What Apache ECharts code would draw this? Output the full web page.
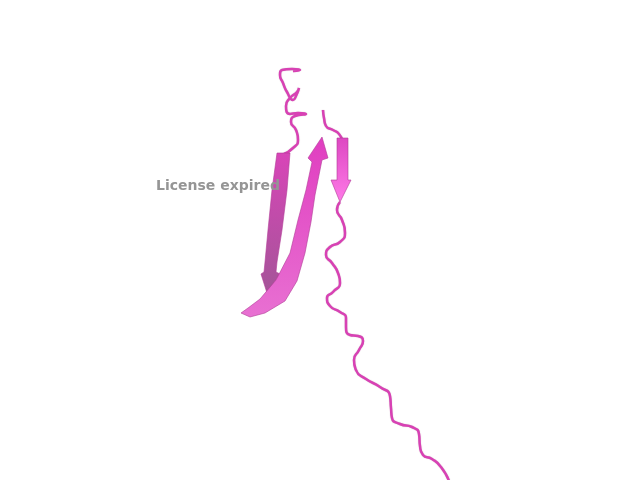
<!DOCTYPE html>
<html>
<head>
<meta charset="utf-8">
<script src="https://cdn.jsdelivr.net/npm/echarts@6/dist/echarts.min.js"></script>
<style>
html, body { margin: 0; padding: 0; background: #ffffff; }
#main { width: 640px; height: 480px; }
</style>
</head>
<body>
<div id="main"></div>
<script>
// picture coordinates (x right, y down)
var coilTop = [[284,154],[293,148],[298,140],[296,130],[291,122],[295,116],[306,114],[298,113],[290,114],[286,106],[290,98],[297,92],[299,88],[296,96],[293,100],[287,92],[283,83],[280,75],[282,70],[292,69],[300,70],[293,71]];
var coilLoop = [[323,110],[324,118],[326,126],[333,130],[339,134],[342,140]];
var coilTail = [[340,202],[337,210],[342,220],[345,233],[340,242],[330,247],[326,255],[332,263],[338,273],[340,283],[333,292],[327,298],[330,306],[340,312],[346,318],[346,327],[350,335],[358,336],[363,341],[359,350],[354,360],[356,370],[366,379],[380,387],[390,396],[391,408],[392,418],[400,424],[412,427],[419,434],[420,446],[423,455],[432,459],[441,467],[449,481]];

var strandLeft = [[277,153],[290,153],[287,190],[282,230],[277,262],[276,272],[280,274],[267,293],[261,274],[264,272],[265,262],[268,230],[272,190]];
var strandMid = [[250,317],[265,313],[285,301],[297,281],[305,253],[311,222],[315,195],[320,170],[322,160],[328,158],[322,137],[308,158],[312,162],[306,190],[298,220],[290,253],[276,280],[260,299],[248,308],[241,313]];
var strandRight = [[337,138],[348,138],[348,180],[351,180],[340,202],[331,180],[337,180]];

var strands = [strandLeft, strandMid, strandRight];
var strandColors = [
	['#d845b8', '#a45598'],
	['#e03ec0', '#e870d2'],
	['#dd48c2', '#ff7ae8']
];

var labelText = 'License expired';

var myChart = echarts.init(document.getElementById('main'));

function coilSeries(pts){
	return {
		type: 'line',
		data: pts,
		smooth: 0.6,
		symbol: 'none',
		silent: true,
		lineStyle: { color: '#d841b4', width: 2.5, shadowColor: 'rgba(110,20,80,0.35)', shadowBlur: 1 },
		z: 2
	};
}

var option = {
	animation: false,
	backgroundColor: '#ffffff',
	grid: { left: 0, right: 0, top: 0, bottom: 0 },
	xAxis: { type: 'value', min: 0, max: 640, show: false },
	yAxis: { type: 'value', min: 0, max: 480, inverse: true, show: false },
	graphic: [{
		type: 'text',
		left: 156,
		top: 179,
		z: 100,
		style: {
			text: labelText,
			fill: '#959595',
			font: 'bold 14px "DejaVu Sans", sans-serif'
		}
	}],
	series: [
		coilSeries(coilTop),
		coilSeries(coilLoop),
		coilSeries(coilTail),
		{
			type: 'custom',
			silent: true,
			z: 3,
			data: strands.map(function(s, i){ return [i]; }),
			renderItem: function(params, api){
				var i = params.dataIndex;
				var pts = strands[i].map(function(p){ return api.coord(p); });
				return {
					type: 'polygon',
					shape: { points: pts },
					style: {
						fill: new echarts.graphic.LinearGradient(0, 0, 0, 1, [
							{ offset: 0, color: strandColors[i][0] },
							{ offset: 1, color: strandColors[i][1] }
						]),
						stroke: '#b03a95',
						lineWidth: 0.6
					}
				};
			}
		}
	]
};
myChart.setOption(option);
</script>
</body>
</html>
